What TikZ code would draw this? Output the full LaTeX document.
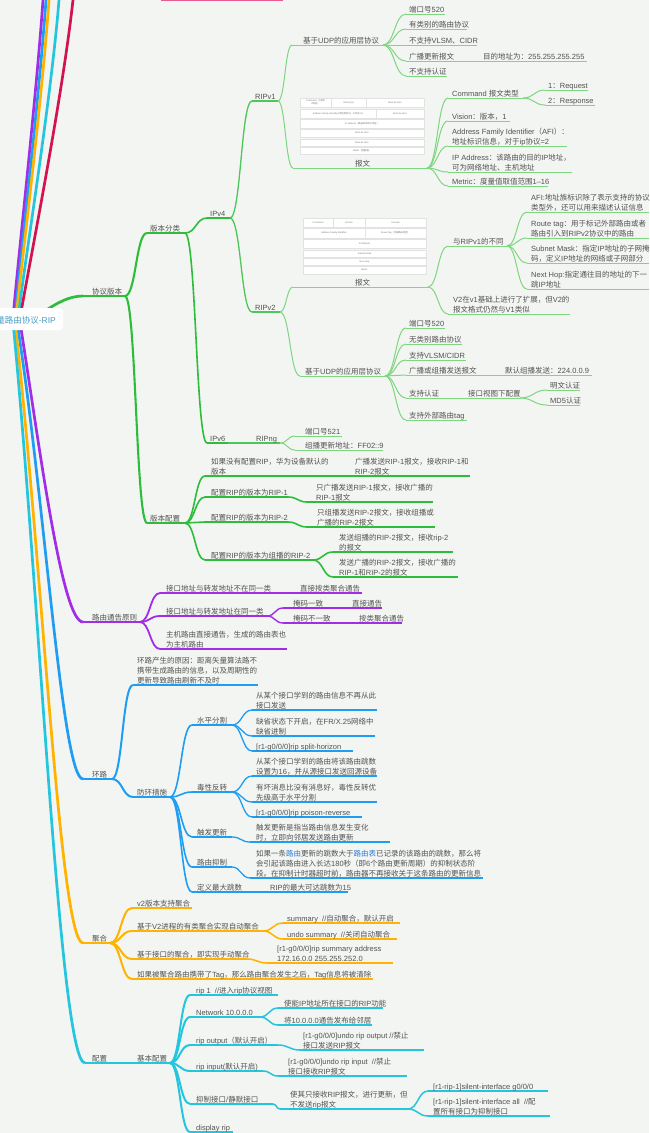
\documentclass[tikz,border=0pt]{standalone}
\usepackage{fontspec}
\setmainfont{Liberation Sans}
\newfontfamily\cjkf{Noto Sans CJK SC}
\newfontfamily\latf{Liberation Sans}
\usetikzlibrary{calc}
\newcount\cc
\cc=32 \loop \XeTeXcharclass\cc=0 \advance\cc by 1 \ifnum\cc<"0250 \repeat
\cc="2000 \loop \XeTeXcharclass\cc=0 \advance\cc by 1 \ifnum\cc<"2070 \repeat
\cc="3000 \loop \XeTeXcharclass\cc=1 \advance\cc by 1 \ifnum\cc<"3040 \repeat
\cc="4E00 \loop \XeTeXcharclass\cc=1 \advance\cc by 1 \ifnum\cc<"A000 \repeat
\cc="FF00 \loop \XeTeXcharclass\cc=1 \advance\cc by 1 \ifnum\cc<"FFF0 \repeat
\XeTeXinterchartokenstate=1
\XeTeXinterchartoks 0 1 = {\cjkf}
\XeTeXinterchartoks 4095 1 = {\cjkf}
\XeTeXinterchartoks 1 0 = {\latf}
\XeTeXinterchartoks 4095 0 = {\latf}
\definecolor{bg}{HTML}{F3F5F2}
\definecolor{tc}{HTML}{525252}
\definecolor{gr}{HTML}{2EBD3B}
\definecolor{grl}{HTML}{7ED680}
\definecolor{pu}{HTML}{A22DE6}
\definecolor{bl}{HTML}{1E9DF2}
\definecolor{ye}{HTML}{FFB300}
\definecolor{cy}{HTML}{24C6DD}
\definecolor{cr}{HTML}{D3134F}
\definecolor{pk}{HTML}{E85B90}
\definecolor{rootc}{HTML}{4B9DC2}
\definecolor{hl}{HTML}{2B7BE0}
\definecolor{cellb}{HTML}{E2E2E2}
\tikzset{
  txt/.style={inner sep=0pt, anchor=base west, font=\fontsize{7.5}{10}\selectfont, text=tc},
  tiny/.style={inner sep=0pt, align=center, font=\fontsize{2.3}{2.8}\selectfont, text=tc!80},
  cellst/.style={fill=white, draw=cellb, line width=0.4},
  Lg0/.style={draw=gr, line width=2.7},
  Lg1/.style={draw=gr, line width=2.1},
  Lg2/.style={draw=gr, line width=1.6},
  Lg3/.style={draw=gr!85, line width=1.3},
  Lg4/.style={draw=grl, line width=1.0},
  Lp0/.style={draw=pu, line width=2.7},
  Lp1/.style={draw=pu, line width=1.8},
  Lp2/.style={draw=pu, line width=1.4},
  Lb0/.style={draw=bl, line width=2.7},
  Lb1/.style={draw=bl, line width=2.0},
  Lb2/.style={draw=bl, line width=1.6},
  Lb3/.style={draw=bl, line width=1.3},
  Ly0/.style={draw=ye, line width=2.7},
  Ly1/.style={draw=ye, line width=2.0},
  Ly2/.style={draw=ye, line width=1.5},
  Lc0/.style={draw=cy, line width=2.7},
  Lc1/.style={draw=cy, line width=2.0},
  Lc2/.style={draw=cy, line width=1.5},
}
\newcommand\U[5]{\coordinate (#1s) at (#3,#5);\coordinate (#1e) at (#4,#5);\draw[#2] (#1s) -- (#1e);}
\newcommand\T[4]{\node[txt] (#1) at (#2,{#3-2}) {#4};}
\newcommand\TT[5]{\node[txt] (#1) at (#2,{#3-12}) {#4};\node[txt] (#1b) at (#2,{#3-2}) {#5};}
\newcommand\TTT[6]{\node[txt] (#1) at (#2,{#3-22}) {#4};\node[txt] (#1b) at (#2,{#3-12}) {#5};\node[txt] (#1c) at (#2,{#3-2}) {#6};}
\newcommand\lk[3]{\draw[#1] let \p1=(#2),\p2=(#3),\n1={0.5*(\x2-\x1)} in (#2) .. controls +(\n1,0) and +(-\n1,0) .. (#3);}
\newcommand\cell[6]{\draw[cellst] (#2,#3) rectangle (#4,#5); \node[tiny] (#1) at ({(#2+#4)/2},{(#3+#5)/2}) {#6};}
\begin{document}
\begin{tikzpicture}[x=1pt,y=-1pt]
\useasboundingbox (0,0) rectangle (649,1133);
\clip (0,0) rectangle (649,1133);
\fill[bg] (0,0) rectangle (649,1133);
\draw[draw=pk, line width=2] (161,0) -- (283,0);
% ---------- root lines to the top ----------
\coordinate (rt1) at (13,318); \coordinate (rt2) at (15,318); \coordinate (rt3) at (16,318);
\coordinate (rt4) at (18,318); \coordinate (rt5) at (20,318);
\coordinate (tp1) at (43,0); \coordinate (tp2) at (46,0); \coordinate (tp3) at (49,0);
\coordinate (tp4) at (59,0); \coordinate (tp5) at (73,0);
\draw[Lp0] (rt1) .. controls (18,260) and (36,100) .. (tp1) -- ++(3,-30);
\draw[Lb0] (rt2) .. controls (20,260) and (39,100) .. (tp2) -- ++(3,-30);
\draw[Ly0] (rt3) .. controls (22,260) and (42,100) .. (tp3) -- ++(3,-30);
\draw[Lc0] (rt4) .. controls (25,260) and (51,100) .. (tp4) -- ++(3,-30);
\draw[draw=cr, line width=2.7] (rt5) .. controls (30,260) and (62,100) .. (tp5) -- ++(4,-30);
% ---------- GREEN ----------
\coordinate (rg) at (42,313);
\U{pv}{Lg0}{83}{125}{296} \T{pv}{92}{296}{协议版本}
\draw[Lg0] (rg) .. controls (58,302) and (70,296) .. (pvs);
\U{fl}{Lg1}{147}{185}{233} \T{fl}{150}{233}{版本分类}
\U{pz}{Lg1}{147}{185}{523} \T{pz}{150}{523}{版本配置}
\lk{Lg1}{pve}{fls} \lk{Lg1}{pve}{pzs}
\U{v4}{Lg2}{207}{230}{218} \T{v4}{210}{218}{IPv4}
\U{v6}{Lg2}{207}{228}{443} \T{v6}{210}{443}{IPv6}
\lk{Lg2}{fle}{v4s} \lk{Lg2}{fle}{v6s}
\U{ra}{Lg3}{252}{278}{101} \T{ra}{255}{101}{RIPv1}
\U{rb}{Lg3}{252}{280}{312} \T{rb}{255}{312}{RIPv2}
\U{rn}{Lg3}{252}{280}{443} \T{rn}{256}{443}{RIPng}
\lk{Lg3}{v4e}{ras} \lk{Lg3}{v4e}{rbs} \draw[Lg3] (v6e) -- (rns);
% RIPv1
\U{ua}{Lg4}{292}{383}{45} \T{ua}{303}{45}{基于UDP的应用层协议}
\U{pa}{Lg4}{293}{427}{168} \T{pa}{355}{168}{报文}
\lk{Lg4}{rae}{uas} \lk{Lg4}{rae}{pas}
\U{a1}{Lg4}{406}{445}{14} \T{a1}{409}{14}{端口号520}
\U{a2}{Lg4}{406}{467}{29} \T{a2}{409}{29}{有类别的路由协议}
\U{a3}{Lg4}{406}{477}{45} \T{a3}{409}{45}{不支持VLSM、CIDR}
\U{a4}{Lg4}{406}{587}{61} \T{a4}{409}{61}{广播更新报文} \T{a4x}{483}{61}{目的地址为：255.255.255.255}
\U{a5}{Lg4}{406}{447}{76} \T{a5}{409}{76}{不支持认证}
\lk{Lg4}{uae}{a1s} \lk{Lg4}{uae}{a2s} \lk{Lg4}{uae}{a3s} \lk{Lg4}{uae}{a4s} \lk{Lg4}{uae}{a5s}
\cell{ta1}{300}{98}{331}{107}{Command（1请求\\2响应）}
\cell{ta2}{331}{98}{366}{107}{Version(1)}
\cell{ta3}{366}{98}{424}{107}{Must be Zero}
\cell{ta4}{300}{109}{376}{118}{Address Family Identifier(地址族标识，IP协议=2)}
\cell{ta5}{376}{109}{424}{118}{Must be Zero}
\cell{ta6}{300}{119}{424}{128}{IP Address（路由的目的IP地址）}
\cell{ta7}{300}{129}{424}{137}{Must be Zero}
\cell{ta8}{300}{139}{424}{146}{Must be Zero}
\cell{ta9}{300}{147}{424}{154}{Metric（度量值）}
\U{ba}{Lg4}{448}{523}{98} \T{ba}{452}{98}{Command 报文类型}
\U{bq}{Lg4}{545}{588}{90} \T{bq}{548}{90}{1：Request}
\U{br}{Lg4}{545}{595}{105} \T{br}{548}{105}{2：Response}
\lk{Lg4}{bae}{bqs} \lk{Lg4}{bae}{brs}
\U{bb}{Lg4}{448}{510}{121} \T{bb}{452}{121}{Vision：版本，1}
\U{bc}{Lg4}{448}{567}{146} \TT{bc}{452}{146}{Address Family Identifier（AFI）：}{地址标识信息，对于ip协议=2}
\U{bd}{Lg4}{448}{572}{172} \TT{bd}{452}{172}{IP Address：该路由的目的IP地址，}{可为网络地址、主机地址}
\U{be}{Lg4}{448}{548}{186} \T{be}{452}{186}{Metric：度量值取值范围1–16}
\lk{Lg4}{pae}{bas} \lk{Lg4}{pae}{bbs} \lk{Lg4}{pae}{bcs} \lk{Lg4}{pae}{bds} \lk{Lg4}{pae}{bes}
% RIPv2
\U{pb}{Lg4}{293}{428}{287} \T{pb}{355}{287}{报文}
\U{ub}{Lg4}{300}{385}{376} \T{ub}{305}{376}{基于UDP的应用层协议}
\lk{Lg4}{rbe}{pbs} \lk{Lg4}{rbe}{ubs}
\cell{tb1}{303}{218}{333}{227}{Command}
\cell{tb2}{333}{218}{365}{227}{Version}
\cell{tb3}{365}{218}{426}{227}{Unused}
\cell{tb4}{303}{228}{365}{238}{Address Family Identifier}
\cell{tb5}{365}{228}{426}{238}{Route Tag（外部路由标签）}
\cell{tb6}{303}{239}{426}{248}{IP Address}
\cell{tb7}{303}{250}{426}{257}{Subnet Mask}
\cell{tb8}{303}{258}{426}{265}{Next Hop}
\cell{tb9}{303}{266}{426}{274}{Metric}
\U{df}{Lg4}{448}{507}{246} \T{df}{453}{246}{与RIPv1的不同}
\U{dx}{Lg4}{448}{570}{314} \TT{dx}{453}{314}{V2在v1基础上进行了扩展，但V2的}{报文格式仍然与V1类似}
\lk{Lg4}{pbe}{dfs} \lk{Lg4}{pbe}{dxs}
\U{da}{Lg4}{527}{649}{212} \TT{da}{531}{212}{AFI:地址族标识除了表示支持的协议}{类型外，还可以用来描述认证信息}
\U{db}{Lg4}{527}{649}{238} \TT{db}{531}{238}{Route tag：用于标记外部路由或者}{路由引入到RIPv2协议中的路由}
\U{dc}{Lg4}{527}{649}{263} \TT{dc}{531}{263}{Subnet Mask：指定IP地址的子网掩}{码，定义IP地址的网络或子网部分}
\U{dd}{Lg4}{527}{649}{289} \TT{dd}{531}{289}{Next Hop:指定通往目的地址的下一}{跳IP地址}
\lk{Lg4}{dfe}{das} \lk{Lg4}{dfe}{dbs} \lk{Lg4}{dfe}{dcs} \lk{Lg4}{dfe}{dds}
\U{ea}{Lg4}{406}{445}{328} \T{ea}{409}{328}{端口号520}
\U{eb}{Lg4}{406}{462}{344} \T{eb}{409}{344}{无类别路由协议}
\U{ec}{Lg4}{406}{466}{360} \T{ec}{409}{360}{支持VLSM/CIDR}
\U{ed}{Lg4}{406}{592}{375} \T{ed}{409}{375}{广播或组播发送报文} \T{edx}{505}{375}{默认组播发送：224.0.0.9}
\U{ee}{Lg4}{406}{520}{398} \T{ee}{409}{398}{支持认证} \T{eex}{468}{398}{接口视图下配置}
\U{ef}{Lg4}{406}{467}{420} \T{ef}{409}{420}{支持外部路由tag}
\lk{Lg4}{ube}{eas} \lk{Lg4}{ube}{ebs} \lk{Lg4}{ube}{ecs} \lk{Lg4}{ube}{eds} \lk{Lg4}{ube}{ees} \lk{Lg4}{ube}{efs}
\U{ma}{Lg4}{547}{580}{390} \T{ma}{550}{390}{明文认证}
\U{mb}{Lg4}{547}{580}{405} \T{mb}{550}{405}{MD5认证}
\lk{Lg4}{eee}{mas} \lk{Lg4}{eee}{mbs}
% RIPng
\U{na}{Lg4}{295}{342}{436} \T{na}{305}{436}{端口号521}
\U{nb}{Lg4}{295}{383}{450} \T{nb}{305}{450}{组播更新地址：FF02::9}
\lk{Lg4}{rne}{nas} \lk{Lg4}{rne}{nbs}
% version config
\U{ca}{Lg2}{205}{470}{476} \TT{ca}{211}{476}{如果没有配置RIP，华为设备默认的}{版本} \TT{cax}{355}{476}{广播发送RIP-1报文，接收RIP-1和}{RIP-2报文}
\U{cb}{Lg2}{205}{288}{497} \T{cb}{211}{497}{配置RIP的版本为RIP-1}
\U{cba}{Lg2}{307}{433}{502} \TT{cba}{316}{502}{只广播发送RIP-1报文，接收广播的}{RIP-1报文}
\U{cc}{Lg2}{205}{288}{522} \T{cc}{211}{522}{配置RIP的版本为RIP-2}
\U{cca}{Lg2}{307}{435}{527} \TT{cca}{317}{527}{只组播发送RIP-2报文，接收组播或}{广播的RIP-2报文}
\U{cd}{Lg2}{205}{313}{560} \T{cd}{211}{560}{配置RIP的版本为组播的RIP-2}
\U{cda}{Lg2}{333}{453}{552} \TT{cda}{339}{552}{发送组播的RIP-2报文，接收rip-2}{的报文}
\U{cdb}{Lg2}{333}{458}{577} \TT{cdb}{339}{577}{发送广播的RIP-2报文，接收广播的}{RIP-1和RIP-2的报文}
\lk{Lg2}{pze}{cas} \lk{Lg2}{pze}{cbs} \lk{Lg2}{pze}{ccs} \lk{Lg2}{pze}{cds}
\lk{Lg2}{cbe}{cbas} \lk{Lg2}{cce}{ccas} \lk{Lg2}{cde}{cdas} \lk{Lg2}{cde}{cdbs}
% ---------- PURPLE ----------
\coordinate (rbp) at (20,322);
\U{pt}{Lp0}{83}{140}{622} \T{pt}{92}{622}{路由通告原则}
\draw[Lp0] (rbp) .. controls (40,450) and (62,622) .. (pts);
\U{qa}{Lp1}{160}{362}{593} \T{qa}{166}{593}{接口地址与转发地址不在同一类} \T{qax}{300}{593}{直接按类聚合通告}
\U{qb}{Lp1}{160}{267}{616} \T{qb}{166}{616}{接口地址与转发地址在同一类}
\U{qc}{Lp1}{160}{287}{649} \TT{qc}{166}{649}{主机路由直接通告，生成的路由表也}{为主机路由}
\lk{Lp1}{pte}{qas} \lk{Lp1}{pte}{qbs} \lk{Lp1}{pte}{qcs}
\U{qba}{Lp2}{283}{382}{608} \T{qba}{293}{608}{掩码一致} \T{qbax}{352}{608}{直接通告}
\U{qbb}{Lp2}{283}{402}{623} \T{qbb}{293}{623}{掩码不一致} \T{qbbx}{359}{623}{按类聚合通告}
\lk{Lp2}{qbe}{qbas} \lk{Lp2}{qbe}{qbbs}
% ---------- BLUE ----------
\coordinate (rbb) at (17,322);
\U{lp}{Lb0}{83}{112}{779} \T{lp}{92}{779}{环路}
\draw[Lb0] (rbb) .. controls (45,500) and (62,779) .. (lps);
\U{wa}{Lb1}{133}{258}{685} \TTT{wa}{137}{685}{环路产生的原因：距离矢量算法路不}{携带生成路由的信息，以及周期性的}{更新导致路由刷新不及时}
\U{wb}{Lb1}{133}{170}{797} \T{wb}{137}{797}{防环措施}
\lk{Lb1}{lpe}{was} \lk{Lb1}{lpe}{wbs}
\U{sh}{Lb2}{192}{232}{725} \T{sh}{197}{725}{水平分割}
\U{pr}{Lb2}{192}{232}{792} \T{pr}{197}{792}{毒性反转}
\U{tu}{Lb2}{192}{232}{837} \T{tu}{197}{837}{触发更新}
\U{hd}{Lb2}{192}{232}{867} \T{hd}{197}{867}{路由抑制}
\U{mx}{Lb2}{192}{348}{892} \T{mx}{197}{892}{定义最大跳数} \T{mxx}{270}{892}{RIP的最大可达跳数为15}
\lk{Lb2}{wbe}{shs} \lk{Lb2}{wbe}{prs} \lk{Lb2}{wbe}{tus} \lk{Lb2}{wbe}{hds} \lk{Lb2}{wbe}{mxs}
\U{sha}{Lb3}{252}{377}{710} \TT{sha}{256}{710}{从某个接口学到的路由信息不再从此}{接口发送}
\U{shb}{Lb3}{252}{375}{736} \TT{shb}{256}{736}{缺省状态下开启，在FR/X.25网络中}{缺省进制}
\U{shc}{Lb3}{252}{353}{751} \T{shc}{256}{751}{[r1-g0/0/0]rip split-horizon}
\lk{Lb3}{she}{shas} \lk{Lb3}{she}{shbs} \lk{Lb3}{she}{shcs}
\U{pra}{Lb3}{252}{377}{776} \TT{pra}{256}{776}{从某个接口学到的路由将该路由跳数}{设置为16，并从源接口发送回源设备}
\U{prb}{Lb3}{252}{377}{802} \TT{prb}{256}{802}{有坏消息比没有消息好，毒性反转优}{先级高于水平分割}
\U{prc}{Lb3}{252}{362}{817} \T{prc}{256}{817}{[r1-g0/0/0]rip poison-reverse}
\lk{Lb3}{pre}{pras} \lk{Lb3}{pre}{prbs} \lk{Lb3}{pre}{prcs}
\U{tua}{Lb3}{250}{390}{842} \TT{tua}{256}{842}{触发更新是指当路由信息发生变化}{时，立即向邻居发送路由更新}
\lk{Lb3}{tue}{tuas}
\U{hda}{Lb3}{250}{483}{878} \TTT{hda}{256}{878}{如果一条{\color{hl}路由}更新的跳数大于{\color{hl}路由表}已记录的该路由的跳数，那么将}{会引起该路由进入长达180秒（即6个路由更新周期）的抑制状态阶}{段。在抑制计时器超时前，路由器不再接收关于这条路由的更新信息}
\lk{Lb3}{hde}{hdas}
% ---------- YELLOW ----------
\coordinate (rby) at (15,322);
\U{ag}{Ly0}{83}{110}{943} \T{ag}{92}{943}{聚合}
\draw[Ly0] (rby) .. controls (42,560) and (60,943) .. (ags);
\U{ya}{Ly1}{132}{192}{908} \T{ya}{137}{908}{v2版本支持聚合}
\U{yb}{Ly1}{132}{263}{931} \T{yb}{137}{931}{基于V2进程的有类聚合实现自动聚合}
\U{yc}{Ly1}{132}{247}{959} \T{yc}{137}{959}{基于接口的聚合，即实现手动聚合}
\U{yd}{Ly1}{132}{373}{979} \T{yd}{137}{979}{如果被聚合路由携带了Tag，那么路由聚合发生之后，Tag信息将被清除}
\lk{Ly1}{age}{yas} \lk{Ly1}{age}{ybs} \lk{Ly1}{age}{ycs} \lk{Ly1}{age}{yds}
\U{yba}{Ly2}{283}{400}{923} \T{yba}{287}{923}{summary\ \ //自动聚合，默认开启}
\U{ybb}{Ly2}{283}{397}{939} \T{ybb}{287}{939}{undo summary\ \ //关闭自动聚合}
\lk{Ly2}{ybe}{ybas} \lk{Ly2}{ybe}{ybbs}
\U{yca}{Ly2}{267}{393}{963} \TT{yca}{277}{963}{[r1-g0/0/0]rip summary address}{172.16.0.0 255.255.252.0}
\lk{Ly2}{yce}{ycas}
% ---------- CYAN ----------
\coordinate (rbc) at (13,322);
\U{cf}{Lc0}{85}{170}{1063} \T{cf}{92}{1063}{配置} \T{cfx}{137}{1063}{基本配置}
\draw[Lc0] (rbc) .. controls (40,600) and (60,1063) .. (cfs);
\U{ka}{Lc1}{190}{278}{995} \T{ka}{196}{995}{rip 1\ \ //进入rip协议视图}
\U{kb}{Lc1}{190}{260}{1017} \T{kb}{196}{1017}{Network 10.0.0.0}
\U{kc}{Lc1}{190}{278}{1045} \T{kc}{196}{1045}{rip output（默认开启）}
\U{kd}{Lc1}{190}{263}{1071} \T{kd}{196}{1071}{rip input(默认开启)}
\U{ke}{Lc1}{190}{273}{1104} \T{ke}{196}{1104}{抑制接口/静默接口}
\U{kf}{Lc1}{190}{233}{1132} \T{kf}{196}{1132}{display rip}
\lk{Lc1}{cfe}{kas} \lk{Lc1}{cfe}{kbs} \lk{Lc1}{cfe}{kcs} \lk{Lc1}{cfe}{kds} \lk{Lc1}{cfe}{kes} \lk{Lc1}{cfe}{kfs}
\U{kba}{Lc2}{278}{383}{1008} \T{kba}{284}{1008}{使能IP地址所在接口的RIP功能}
\U{kbb}{Lc2}{278}{372}{1025} \T{kbb}{284}{1025}{将10.0.0.0通告发布给邻居}
\lk{Lc2}{kbe}{kbas} \lk{Lc2}{kbe}{kbbs}
\U{kca}{Lc2}{300}{424}{1050} \TT{kca}{303}{1050}{[r1-g0/0/0]undo rip output //禁止}{接口发送RIP报文}
\lk{Lc2}{kce}{kcas}
\U{kda}{Lc2}{278}{407}{1076} \TT{kda}{288}{1076}{[r1-g0/0/0]undo rip input\ \ //禁止}{接口接收RIP报文}
\lk{Lc2}{kde}{kdas}
\U{kea}{Lc2}{280}{408}{1109} \TT{kea}{290}{1109}{使其只接收RIP报文，进行更新，但}{不发送rip报文}
\lk{Lc2}{kee}{keas}
\U{keb}{Lc2}{428}{548}{1091} \T{keb}{433}{1091}{[r1-rip-1]silent-interface g0/0/0}
\U{kec}{Lc2}{428}{550}{1116} \TT{kec}{433}{1116}{[r1-rip-1]silent-interface all\ \ //配}{置所有接口为抑制接口}
\lk{Lc2}{keae}{kebs} \lk{Lc2}{keae}{kecs}
% ---------- ROOT ----------
\fill[white, rounded corners=4pt] (-10,308) rectangle (63,330);
\node[inner sep=0pt, anchor=base east, font=\fontsize{8.5}{10}\selectfont, text=rootc] (root) at (56,323) {量路由协议-RIP};
\end{tikzpicture}
\end{document}
